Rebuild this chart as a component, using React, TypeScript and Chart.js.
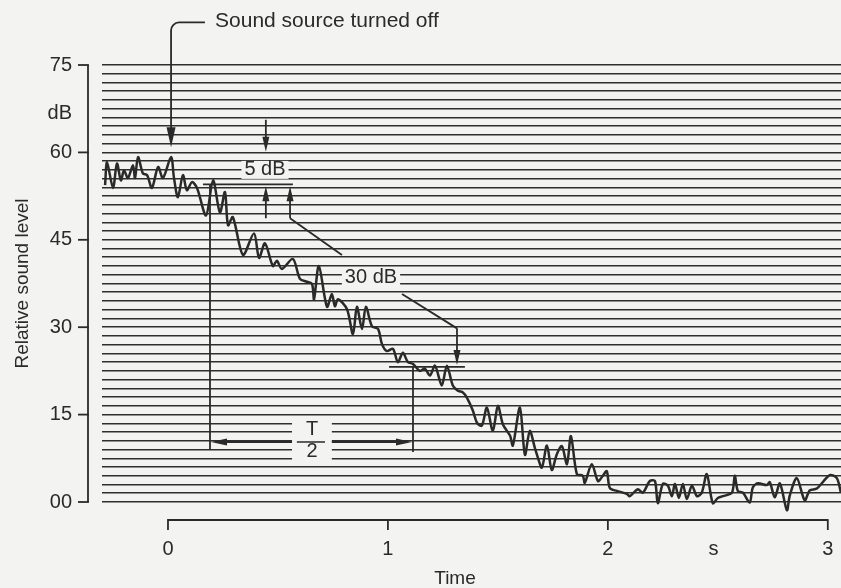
import React, { useEffect, useRef } from 'react';
import { Chart, registerables } from 'chart.js';

Chart.register(...registerables);

// ---- data (time in seconds, relative sound level in dB) ----
const timeS = [
  -0.286, -0.277, -0.25, -0.232, -0.214, -0.2, -0.182, -0.159, -0.15, -0.136,
  -0.114, -0.095, -0.073, -0.045, -0.023, 0.014, 0.027, 0.045, 0.068, 0.086,
  0.109, 0.132, 0.173, 0.205, 0.236, 0.259, 0.273, 0.295, 0.341, 0.391,
  0.414, 0.441, 0.477, 0.495, 0.518, 0.568, 0.6, 0.632, 0.655, 0.664,
  0.686, 0.723, 0.745, 0.759, 0.773, 0.814, 0.841, 0.859, 0.882, 0.9,
  0.927, 0.955, 0.973, 0.995, 1.023, 1.045, 1.068, 1.091, 1.114, 1.145,
  1.168, 1.191, 1.214, 1.245, 1.268, 1.295, 1.318, 1.341, 1.359, 1.386,
  1.405, 1.427, 1.45, 1.477, 1.5, 1.523, 1.555, 1.568, 1.6, 1.623,
  1.645, 1.668, 1.682, 1.7, 1.723, 1.745, 1.768, 1.791, 1.814, 1.832,
  1.859, 1.886, 1.895, 1.927, 1.955, 1.977, 1.995, 2.009, 2.041, 2.086,
  2.1, 2.136, 2.159, 2.191, 2.214, 2.227, 2.25, 2.273, 2.291, 2.305,
  2.323, 2.341, 2.359, 2.382, 2.405, 2.427, 2.45, 2.477, 2.5, 2.523,
  2.564, 2.577, 2.591, 2.614, 2.645, 2.659, 2.682, 2.723, 2.736, 2.759,
  2.782, 2.814, 2.827, 2.859, 2.895, 2.918, 2.95, 3.009, 3.041, 3.059,
];
const levelDb = [
  54.4, 58.3, 53.9, 58.1, 55.2, 56.9, 55.6, 57.8, 55.6, 59.2,
  56.4, 56.1, 53.9, 57.5, 55.6, 59.2, 55.7, 52.3, 56.1, 53.5,
  54.9, 53.9, 49.2, 55.2, 49.7, 53.2, 47.5, 48.9, 42.4, 46.1,
  41.9, 44.4, 40.5, 41.4, 40.0, 41.7, 38.3, 37.8, 37.4, 34.8,
  40.5, 33.5, 35.7, 33.6, 34.8, 33.1, 28.8, 33.5, 29.7, 33.5,
  30.2, 29.7, 27.1, 25.9, 26.3, 24.0, 25.6, 24.0, 23.7, 22.5,
  22.9, 21.7, 23.4, 20.0, 23.4, 20.0, 19.1, 18.8, 17.9, 15.7,
  13.6, 13.1, 16.2, 12.2, 16.5, 13.3, 11.4, 9.7, 16.2, 8.1,
  12.2, 9.3, 7.6, 5.9, 9.7, 5.5, 8.2, 9.6, 6.5, 11.3,
  4.8, 4.5, 3.3, 6.5, 3.6, 4.5, 5.3, 2.4, 1.9, 1.4,
  1.0, 2.2, 1.6, 3.6, 3.6, -0.2, 3.1, 2.8, 1.0, 3.1,
  0.7, 3.1, 0.5, 2.8, 1.0, 1.6, 4.8, -0.2, 0.7, 1.0,
  1.6, 4.5, 1.9, 1.6, -0.1, 2.5, 3.2, 2.9, 3.4, 0.8,
  3.2, -1.4, 1.1, 4.1, 0.3, 2.0, 2.3, 4.6, 4.1, 1.7,
];

const xTickValues = [0, 1, 2, 2.48, 3];
const xTickLabels = ['0', '1', '2', 's', '3'];
const xBracketValues = [0, 1, 2, 3];
const yLabelValues = [0, 15, 30, 45, 60, 75];
const yLabelTexts = ['00', '15', '30', '45', '60', '75'];
const yAxisTitle = 'Relative sound level';
const xAxisTitle = 'Time';
const unitText = 'dB';
const sourceOffText = 'Sound source turned off';
const fiveDbText = '5 dB';
const thirtyDbText = '30 dB';
const halfNum = 'T';
const halfDen = '2';

const BG = '#f3f3f1';
const INK = '#2a2a2a';
const FONT = '"Liberation Sans", Arial, Helvetica, sans-serif';

function seg(ctx: CanvasRenderingContext2D, x1: number, y1: number, x2: number, y2: number) {
  ctx.beginPath();
  ctx.moveTo(x1, y1);
  ctx.lineTo(x2, y2);
  ctx.stroke();
}

function arrowHead(ctx: CanvasRenderingContext2D, tx: number, ty: number, dx: number, dy: number, len: number, hw: number) {
  const n = Math.hypot(dx, dy);
  const ux = dx / n, uy = dy / n;
  const bx = tx - ux * len, by = ty - uy * len;
  ctx.beginPath();
  ctx.moveTo(tx, ty);
  ctx.lineTo(bx - uy * hw, by + ux * hw);
  ctx.lineTo(bx + uy * hw, by - ux * hw);
  ctx.closePath();
  ctx.fill();
}

function maskedText(ctx: CanvasRenderingContext2D, text: string, cx: number, cy: number, padX: number, h: number) {
  const w = ctx.measureText(text).width;
  ctx.save();
  ctx.fillStyle = BG;
  ctx.fillRect(cx - w / 2 - padX, cy - h / 2, w + padX * 2, h);
  ctx.restore();
  ctx.fillText(text, cx, cy);
}

const annotPlugin = {
  id: 'annot',
  beforeDraw(chart: any) {
    const { ctx, width, height } = chart;
    ctx.save();
    ctx.fillStyle = BG;
    ctx.fillRect(0, 0, width, height);
    ctx.restore();
  },
  afterDraw(chart: any) {
    const { ctx, chartArea: ca, scales } = chart;
    const X = (t: number) => scales.x.getPixelForValue(t);
    const Y = (d: number) => scales.y.getPixelForValue(d);
    ctx.save();
    ctx.strokeStyle = INK;
    ctx.fillStyle = INK;
    ctx.lineWidth = 1.8;

    // y bracket axis
    const ax = ca.left - 14;
    seg(ctx, ax, Y(75), ax, Y(0));
    yLabelValues.forEach((v) => seg(ctx, ax - 10, Y(v), ax + 0.9, Y(v)));
    // x bracket axis
    const ay = ca.bottom + 18;
    seg(ctx, X(0), ay, X(3), ay);
    xBracketValues.forEach((v) => seg(ctx, X(v), ay - 0.9, X(v), ay + 10));

    ctx.font = `20px ${FONT}`;
    ctx.textBaseline = 'middle';
    ctx.textAlign = 'right';
    ctx.fillText(unitText, ca.left - 30, Y(66.7));

    // x axis title
    ctx.textAlign = 'center';
    ctx.font = `19px ${FONT}`;
    ctx.fillText(xAxisTitle, X(1.305), ca.bottom + 77);

    // Sound source turned off
    ctx.textAlign = 'left';
    ctx.font = `21px ${FONT}`;
    ctx.fillText(sourceOffText, X(0.214), Y(82.6));
    ctx.font = `20px ${FONT}`;
    ctx.beginPath();
    ctx.moveTo(X(0.168), Y(82.3));
    ctx.arcTo(X(0.014), Y(82.3), X(0.014), Y(60.7), 8);
    ctx.lineTo(X(0.014), Y(63));
    ctx.stroke();
    arrowHead(ctx, X(0.014), Y(60.9), 0, 1, 20, 4.5);

    // 5 dB
    ctx.textAlign = 'center';
    seg(ctx, X(0.445), Y(65.6), X(0.445), Y(62));
    arrowHead(ctx, X(0.445), Y(60.1), 0, 1, 15, 3.5);
    maskedText(ctx, fiveDbText, X(0.441), Y(57.0), 3, 18);
    seg(ctx, X(0.159), Y(54.5), X(0.568), Y(54.5));
    [0.445, 0.555].forEach((t) => {
      seg(ctx, X(t), Y(52), X(t), Y(48.7));
      arrowHead(ctx, X(t), Y(54.2), 0, -1, 15, 3.5);
    });
    seg(ctx, X(0.555), Y(48.7), X(0.791), Y(42.4));

    // 30 dB
    maskedText(ctx, thirtyDbText, X(0.923), Y(38.6), 3, 20);
    seg(ctx, X(1.064), Y(35.7), X(1.314), Y(29.8));
    seg(ctx, X(1.314), Y(29.8), X(1.314), Y(25.5));
    arrowHead(ctx, X(1.314), Y(23.5), 0, 1, 15, 3.5);
    seg(ctx, X(1.005), Y(23.2), X(1.35), Y(23.2));

    // T/2
    seg(ctx, X(0.191), Y(54.5), X(0.191), Y(9.0));
    seg(ctx, X(1.114), Y(23.2), X(1.114), Y(8.6));
    const ty = Y(10.3);
    ctx.save();
    ctx.fillStyle = BG;
    ctx.fillRect(X(0.564), Y(13.9), X(0.745) - X(0.564), Y(7.2) - Y(13.9));
    ctx.restore();
    seg(ctx, X(0.191) + 10, ty, X(0.564), ty);
    seg(ctx, X(0.745), ty, X(1.114) - 10, ty);
    arrowHead(ctx, X(0.191) + 1, ty, -1, 0, 16, 3.5);
    arrowHead(ctx, X(1.114) - 1, ty, 1, 0, 16, 3.5);
    ctx.lineWidth = 1.5;
    seg(ctx, X(0.586), ty, X(0.714), ty);
    ctx.fillText(halfNum, X(0.655), Y(12.4));
    ctx.fillText(halfDen, X(0.655), Y(8.7));
    ctx.restore();
  },
};

export default function App() {
  const ref = useRef<HTMLCanvasElement | null>(null);
  useEffect(() => {
    if (!ref.current) return;
    const chart = new Chart(ref.current, {
      type: 'line',
      data: {
        datasets: [
          {
            data: timeS.map((t, i) => ({ x: t, y: levelDb[i] })),
            borderColor: INK,
            borderWidth: 2.5,
            pointRadius: 0,
            tension: 0.3,
            fill: false,
            clip: false as any,
          },
        ],
      },
      options: {
        animation: false,
        responsive: false,
        events: [],
        layout: { padding: { top: 65, left: 0, right: 0, bottom: 0 } },
        plugins: { legend: { display: false }, tooltip: { enabled: false } },
        scales: {
          x: {
            type: 'linear',
            min: -0.3,
            max: 3.06,
            grid: { display: false },
            border: { display: false },
            afterBuildTicks: (scale: any) => {
              scale.ticks = xTickValues.map((v) => ({ value: v }));
            },
            afterFit: (scale: any) => {
              scale.height = 86;
              scale.paddingLeft = 0;
              scale.paddingRight = 0;
            },
            ticks: {
              autoSkip: false,
              maxRotation: 0,
              padding: 27,
              color: INK,
              font: { family: FONT, size: 20 },
              callback: (v: any) => {
                const i = xTickValues.indexOf(Number(v));
                return i >= 0 ? xTickLabels[i] : '';
              },
            },
            title: { display: false },
          },
          y: {
            type: 'linear',
            min: 0,
            max: 75,
            grid: { color: '#2e2e2e', lineWidth: 1.6, drawTicks: false },
            border: { display: false },
            afterFit: (scale: any) => {
              scale.width = 102;
              scale.paddingTop = 0;
              scale.paddingBottom = 0;
            },
            ticks: {
              stepSize: 1.5,
              autoSkip: false,
              padding: 30,
              color: INK,
              font: { family: FONT, size: 20 },
              callback: (v: any) => {
                const n = Math.round(Number(v) * 10) / 10;
                const i = yLabelValues.indexOf(n);
                return i >= 0 ? yLabelTexts[i] : '';
              },
            },
            title: {
              display: true,
              text: yAxisTitle,
              color: INK,
              font: { family: FONT, size: 19 },
              padding: { top: 11, bottom: 0 },
            },
          },
        },
      },
      plugins: [annotPlugin],
    });
    return () => chart.destroy();
  }, []);
  return (
    <div style={{ position: 'absolute', left: 0, top: 0, width: 841, height: 588 }}>
      <canvas ref={ref} width={841} height={588} style={{ display: 'block' }} />
    </div>
  );
}
